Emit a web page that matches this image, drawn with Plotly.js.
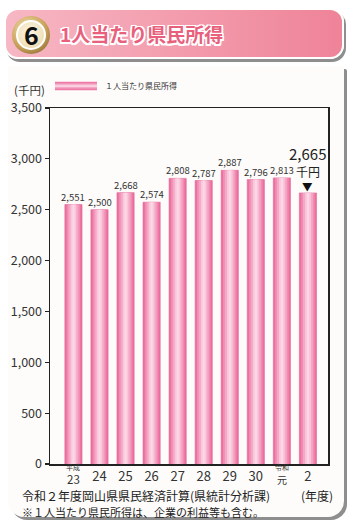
<!DOCTYPE html>
<html>
<head>
<meta charset="utf-8">
<script src="https://cdn.plot.ly/plotly-3.0.1.min.js"></script>
<style>
  html, body { margin:0; padding:0; background:#ffffff; }
  #wrap { position:relative; width:351px; height:526px; overflow:hidden; }
  #card { position:absolute; left:8px; top:66px; width:336px; height:451px;
          background:#fdfcfa; border-radius:2px 2px 16px 16px;
          box-shadow:3px 3px 0 #8e8e8e; }
  #header { position:absolute; left:4px; top:8px; width:336px; height:47px;
            border:2px solid #ffffff; border-radius:14px;
            background:linear-gradient(to right, #f7b7c4, #ef8398);
            box-shadow:2px 3px 0 #8e8e8e; }
  #badge { position:absolute; left:12px; top:16px; width:38px; height:38px; border-radius:50%;
           background:radial-gradient(circle at 40% 35%, #f7e8b8 0%, #c9a25a 55%, #6e5423 100%); }
  #badge-in { position:absolute; left:16px; top:20px; width:26px; height:26px; border-radius:50%;
              border:2px solid #ffffff;
              background:radial-gradient(circle at 45% 40%, #fbf5e4 0%, #efe0b8 70%, #d9c48e 100%); }
  #chart { position:absolute; left:0; top:0; width:351px; height:526px; }
</style>
</head>
<body>
<div id="wrap">
  <div id="card"></div>
  <div id="header"></div>
  <div id="badge"></div>
  <div id="badge-in"></div>
  <div id="chart"></div>
</div>
<script>
// ---- data ----
const eraLabels  = ['平成', '', '', '', '', '', '', '', '令和', ''];
const yearLabels = ['23', '24', '25', '26', '27', '28', '29', '30', '元', '2'];
const incomeValues = [2551, 2500, 2668, 2574, 2808, 2787, 2887, 2796, 2813, 2665];
const seriesName = '１人当たり県民所得';
const unitLabel = '千円';
const yTickVals = [0, 500, 1000, 1500, 2000, 2500, 3000, 3500];
const chartTitle = '1人当たり県民所得';
const sectionNumber = '6';
const sourceNote = '令和２年度岡山県県民経済計算(県統計分析課)';
const footNote = '※１人当たり県民所得は、企業の利益等も含む。';

// ---- build ----
const FONT = '"Noto Sans CJK JP", "Noto Sans", sans-serif';
const idx = incomeValues.map((_, i) => i);
const fmt = v => v.toLocaleString('en-US');

// gradient-like bars: overlaid layers, widest darkest
const layers = [
  {w: 0.66, c: '#ec6f9e', line: '#e3689a'},
  {w: 0.52, c: '#f08cb2'},
  {w: 0.38, c: '#f4a8c6'},
  {w: 0.22, c: '#f9c6da'},
  {w: 0.08, c: '#fcd8e6'}
];
const traces = layers.map((L, k) => ({
  type: 'bar', x: idx, y: incomeValues, width: L.w, name: seriesName,
  marker: {color: L.c, line: {width: L.line ? 0.6 : 0, color: L.line || L.c}},
  showlegend: false, hoverinfo: k === 0 ? 'y' : 'skip'
}));

const annotations = [];
const last = incomeValues.length - 1;
incomeValues.forEach((v, i) => {
  if (i === last) return;
  annotations.push({x: i, y: v, xref: 'x', yref: 'y', text: fmt(v), showarrow: false,
    yanchor: 'bottom', yshift: 0, borderpad: 0, font: {family: FONT, size: 9.5, color: '#333'}});
});
// highlighted last value
annotations.push({x: last, y: incomeValues[last], xref: 'x', yref: 'y', text: '▼', showarrow: false,
  yanchor: 'middle', yshift: 6, borderpad: 0, font: {family: FONT, size: 10.5, color: '#111'}});
annotations.push({x: last, y: incomeValues[last], xref: 'x', yref: 'y', text: unitLabel, showarrow: false,
  yanchor: 'middle', yshift: 21, borderpad: 0, font: {family: FONT, size: 12, color: '#222'}});
annotations.push({x: last, y: incomeValues[last], xref: 'x', yref: 'y', text: fmt(incomeValues[last]), showarrow: false,
  yanchor: 'middle', yshift: 39, borderpad: 0, font: {family: FONT, size: 15, color: '#222'}});

// era labels (small) + years for those ticks
eraLabels.forEach((e, i) => {
  if (!e) return;
  annotations.push({x: i, y: 0, xref: 'x', yref: 'y', text: e, showarrow: false, borderpad: 0,
    yanchor: 'middle', yshift: -3, font: {family: FONT, size: 7, color: '#333'}});
  annotations.push({x: i, y: 0, xref: 'x', yref: 'y', text: yearLabels[i], showarrow: false, borderpad: 0,
    yanchor: 'middle', yshift: -15, font: {family: FONT, size: i === 0 ? 11.5 : 10, color: '#333'}});
});
const tickText = yearLabels.map((y, i) => eraLabels[i] ? '' : y);

// header texts
annotations.push({xref: 'paper', yref: 'paper', x: -0.068, y: 1.207, text: sectionNumber, showarrow: false,
  xanchor: 'center', yanchor: 'middle', font: {family: FONT, size: 25, color: '#111', weight: 700}});
annotations.push({xref: 'paper', yref: 'paper', x: 0.03, y: 1.21, text: chartTitle, showarrow: false,
  xanchor: 'left', yanchor: 'middle',
  font: {family: FONT, size: 19, color: '#e8607c', weight: 700,
         shadow: '1.5px 1.5px 0 #fff, -1.5px -1.5px 0 #fff, 1.5px -1.5px 0 #fff, -1.5px 1.5px 0 #fff, 0 1.5px 0 #fff, 0 -1.5px 0 #fff, 1.5px 0 0 #fff, -1.5px 0 0 #fff'}});
// legend label + unit
annotations.push({xref: 'paper', yref: 'paper', x: 0.19, y: 1.062, text: seriesName, showarrow: false,
  xanchor: 'left', yanchor: 'middle', font: {family: FONT, size: 8, color: '#333'}});
annotations.push({xref: 'paper', yref: 'paper', x: -0.075, y: 1.05, text: '(' + unitLabel + ')', showarrow: false,
  borderpad: 0, xanchor: 'center', yanchor: 'middle', font: {family: FONT, size: 11.5, color: '#333'}});
// footer
annotations.push({xref: 'paper', yref: 'paper', x: -0.103, y: -0.088, text: sourceNote, showarrow: false,
  borderpad: 0, xanchor: 'left', yanchor: 'middle', font: {family: FONT, size: 12, color: '#222'}});
annotations.push({xref: 'paper', yref: 'paper', x: 1.02, y: -0.088, text: '(年度)', showarrow: false,
  borderpad: 0, xanchor: 'right', yanchor: 'middle', font: {family: FONT, size: 12, color: '#222'}});
annotations.push({xref: 'paper', yref: 'paper', x: -0.103, y: -0.135, text: footNote, showarrow: false,
  borderpad: 0, xanchor: 'left', yanchor: 'middle', font: {family: FONT, size: 11, color: '#222'}});

// legend swatch (striped to mimic gradient)
const shapes = [
  {type: 'rect', xref: 'paper', yref: 'paper', x0: 0.018, x1: 0.169, y0: 1.050, y1: 1.074, fillcolor: '#ee7aa6', line: {width: 0}},
  {type: 'rect', xref: 'paper', yref: 'paper', x0: 0.018, x1: 0.169, y0: 1.055, y1: 1.069, fillcolor: '#f4a6c5', line: {width: 0}},
  {type: 'rect', xref: 'paper', yref: 'paper', x0: 0.018, x1: 0.169, y0: 1.059, y1: 1.065, fillcolor: '#fad0e1', line: {width: 0}}
];

const layout = {
  width: 351, height: 526,
  margin: {l: 50, r: 23, t: 108, b: 62},
  paper_bgcolor: 'rgba(0,0,0,0)',
  plot_bgcolor: 'rgba(0,0,0,0)',
  barmode: 'overlay',
  showlegend: false,
  font: {family: FONT, color: '#333'},
  xaxis: {
    range: [-0.9, 9.77], tickvals: idx, ticktext: tickText, tickmode: 'array',
    ticks: '', showgrid: false, zeroline: false,
    showline: true, linecolor: '#222', linewidth: 1.5, mirror: true,
    tickfont: {family: FONT, size: 13, color: '#333'}, fixedrange: true
  },
  yaxis: {
    range: [0, 3500], tickvals: yTickVals, tickformat: ',d',
    ticks: 'outside', ticklen: 4, tickcolor: '#222', tickwidth: 1.2,
    showgrid: false, zeroline: false,
    showline: true, linecolor: '#222', linewidth: 1.5, mirror: true,
    tickfont: {family: FONT, size: 12.5, color: '#333'}, fixedrange: true
  },
  annotations: annotations,
  shapes: shapes
};

Plotly.newPlot('chart', traces, layout, {displayModeBar: false, staticPlot: true});
</script>
</body>
</html>
